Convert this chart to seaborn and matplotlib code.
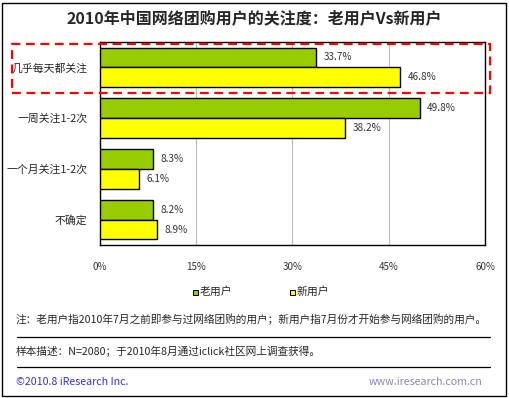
import matplotlib
matplotlib.use("Agg")
import matplotlib.pyplot as plt
import matplotlib.patches as mpatches
import seaborn as sns
import pandas as pd

categories = ["几乎每天都关注", "一周关注1-2次", "一个月关注1-2次", "不确定"]
series_names = ["老用户", "新用户"]
old_users = [33.7, 49.8, 8.3, 8.2]
new_users = [46.8, 38.2, 6.1, 8.9]
x_ticks = [0, 15, 30, 45, 60]
x_tick_labels = ["0%", "15%", "30%", "45%", "60%"]
colors = ["#99CC00", "#FFFF00"]

title = "2010年中国网络团购用户的关注度：老用户Vs新用户"
note = "注：老用户指2010年7月之前即参与过网络团购的用户；新用户指7月份才开始参与网络团购的用户。"
sample = "样本描述：N=2080；于2010年8月通过iclick社区网上调查获得。"
copyright_text = "©2010.8 iResearch Inc."
site = "www.iresearch.com.cn"

sns.set_style("white")
plt.rcParams['font.family'] = ['Noto Sans CJK SC', 'DejaVu Sans']

df = pd.DataFrame({
    "cat": categories * 2,
    "series": [series_names[0]] * 4 + [series_names[1]] * 4,
    "val": old_users + new_users,
})

fig = plt.figure(figsize=(5.09, 3.98), dpi=100)
ax = fig.add_axes([100/509, 1-245/398, 385/509, 203/398])
ax.set_axisbelow(True)

sns.barplot(data=df, y="cat", x="val", hue="series", order=categories,
            hue_order=series_names, palette=colors, saturation=1, orient="h", width=0.78,
            edgecolor="black", linewidth=1.0, ax=ax, legend=False, zorder=3)

ax.set_xlim(0, 60)
ax.set_ylim(3.5, -0.5)
ax.set_xticks(x_ticks)
ax.set_xticklabels(x_tick_labels, fontsize=7, color="#333333")
ax.tick_params(axis="x", length=0, pad=12)
ax.tick_params(axis="y", length=0, pad=9, labelsize=7.8)
ax.set_xlabel("")
ax.set_ylabel("")
ax.grid(axis="x", color="#BBBBBB", linewidth=0.8, zorder=0)
ax.grid(axis="y", visible=False)
for s in ax.spines.values():
    s.set_visible(True)
    s.set_color("black")
    s.set_linewidth(1.0)

for cont in ax.containers:
    for bar in cont:
        w = bar.get_width()
        ax.text(w + 1.2, bar.get_y() + bar.get_height()/2, f"{w:.1f}%",
                va="center", ha="left", fontsize=7.2, color="#333333")

# title
fig.text(0.5, 1-18/398, title, ha="center", va="center", fontsize=11.5, fontweight="bold")

# legend
fig.patches.append(mpatches.Rectangle((193/509, 1-295/398), 5/509, 5/398, transform=fig.transFigure,
                                      facecolor=colors[0], edgecolor="black", linewidth=0.7))
fig.text(200/509, 1-292/398, series_names[0], ha="left", va="center", fontsize=7.8)
fig.patches.append(mpatches.Rectangle((290/509, 1-295/398), 5/509, 5/398, transform=fig.transFigure,
                                      facecolor=colors[1], edgecolor="black", linewidth=0.7))
fig.text(297/509, 1-292/398, series_names[1], ha="left", va="center", fontsize=7.8)

# notes
fig.text(16/509, 1-319/398, note, ha="left", va="center", fontsize=7.7)
fig.add_artist(plt.Line2D([17/509, 490/509], [1-337/398, 1-337/398], color="black", linewidth=0.9))
fig.text(16/509, 1-352/398, sample, ha="left", va="center", fontsize=7.7)
fig.add_artist(plt.Line2D([17/509, 490/509], [1-367/398, 1-367/398], color="black", linewidth=0.9))
fig.text(16/509, 1-382/398, copyright_text, ha="left", va="center", fontsize=7.7, color="#3333CC")
fig.text(482/509, 1-382/398, site, ha="right", va="center", fontsize=7.7, color="#8888AA")

# red dashed highlight box
fig.patches.append(mpatches.Rectangle((12/509, 1-93/398), 478/509, 49/398, transform=fig.transFigure,
                                      fill=False, edgecolor="red", linewidth=1.6, linestyle=(0, (4, 2.5)), zorder=10))
# outer frame
fig.patches.append(mpatches.Rectangle((2/509, 2/398), 504/509, 393/398, transform=fig.transFigure,
                                      fill=False, edgecolor="black", linewidth=1.0))

fig.savefig("out.png", dpi=100)
